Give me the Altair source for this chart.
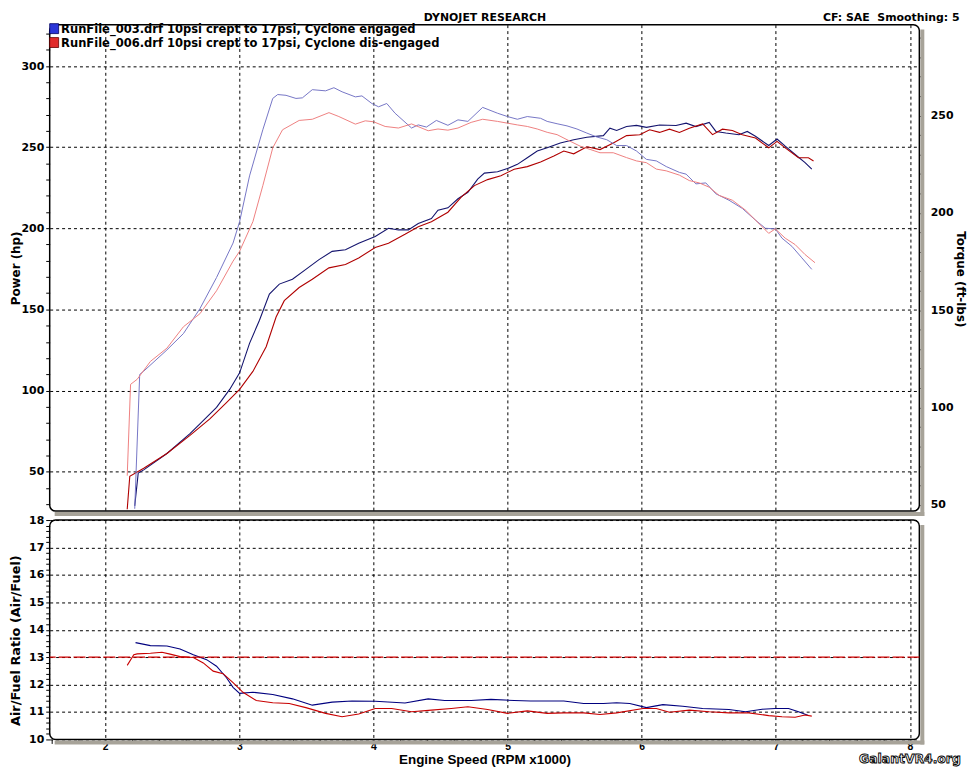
import altair as alt
import pandas as pd

# ---------------- data ----------------
# Run 003 (Cyclone engaged) - power (hp)
rpm_003_hp = [2.22, 2.246, 2.287, 2.46, 2.632, 2.706, 2.83, 2.928, 3.002, 3.076,
              3.15, 3.224, 3.298, 3.396, 3.496, 3.594, 3.692, 3.791, 3.89, 4.013,
              4.112, 4.186, 4.26, 4.334, 4.432, 4.481, 4.555, 4.63, 4.704, 4.777,
              4.827, 4.925, 4.999, 5.073, 5.147, 5.221, 5.295, 5.393, 5.493, 5.591,
              5.714, 5.763, 5.813, 5.887, 5.961, 6.035, 6.133, 6.256, 6.331, 6.404,
              6.503, 6.553, 6.627, 6.725, 6.787, 6.848, 6.947, 7.009, 7.07, 7.144,
              7.218, 7.268]
hp_003 = [28.9, 49.1, 51.1, 61.2, 73.4, 79.5, 89.6, 100.7, 110.9, 129.1,
          143.3, 159.5, 165.6, 168.6, 174.7, 180.7, 185.8, 186.8, 190.8, 194.9,
          200, 199, 199, 203, 206, 211.1, 212.6, 218.2, 222.2, 230.3,
          234, 234.8, 236.8, 239.4, 243.5, 247.6, 249.6, 252.6, 254.6, 256.1,
          257.1, 261.7, 260.3, 262.7, 263.4, 262.2, 263.7, 263.4, 264.8, 262.7,
          265.2, 259.7, 258.7, 257.7, 259.7, 256.7, 251, 255, 250.6, 245.5,
          240.5, 236.4]

# Run 003 - torque (ft-lbs)
rpm_003_tq = [2.22, 2.257, 2.287, 2.46, 2.583, 2.706, 2.83, 2.953, 3.002, 3.076,
              3.175, 3.249, 3.286, 3.348, 3.422, 3.47, 3.544, 3.643, 3.705, 3.766,
              3.865, 3.914, 3.988, 4.038, 4.099, 4.161, 4.284, 4.334, 4.395, 4.469,
              4.555, 4.63, 4.704, 4.814, 4.925, 4.999, 5.073, 5.147, 5.246, 5.295,
              5.369, 5.443, 5.517, 5.591, 5.665, 5.739, 5.813, 5.887, 5.961, 6.035,
              6.109, 6.183, 6.281, 6.331, 6.404, 6.478, 6.553, 6.651, 6.75, 6.848,
              6.922, 6.996, 7.046, 7.12, 7.194, 7.268]
tq_003 = [48, 117, 118.7, 129.6, 138, 150.8, 166.8, 184.5, 195.5, 219,
          242.7, 258.8, 260.8, 260.4, 258.8, 259.1, 263.3, 262.7, 264.3, 262.2,
          259.6, 260.1, 256.2, 254.5, 256.2, 251.2, 243.6, 245.2, 244.1, 247.5,
          245, 247.8, 247, 254.2, 251.2, 249.5, 248.1, 249.5, 248.6, 247,
          245.8, 244.7, 243.1, 241, 239, 237.6, 234.6, 234.6, 231.8, 227.5,
          226.7, 223.8, 220.8, 219.9, 214.9, 215.4, 209.8, 206.5, 202.3, 196.3,
          192.1, 191.8, 187, 182.8, 176.9, 171]

# Run 006 (Cyclone dis-engaged) - power (hp)
rpm_006_hp = [2.164, 2.183, 2.287, 2.46, 2.632, 2.78, 2.904, 3.002, 3.101, 3.2,
              3.274, 3.335, 3.446, 3.544, 3.668, 3.791, 3.89, 4.013, 4.112, 4.235,
              4.334, 4.432, 4.555, 4.654, 4.753, 4.851, 4.95, 5.049, 5.147, 5.246,
              5.345, 5.419, 5.493, 5.591, 5.689, 5.788, 5.887, 5.985, 6.059, 6.133,
              6.207, 6.281, 6.355, 6.454, 6.528, 6.602, 6.676, 6.75, 6.848, 6.947,
              7.009, 7.07, 7.169, 7.243, 7.281]
hp_006 = [26.8, 47.1, 52.1, 61.2, 72.4, 82.5, 92.6, 100.7, 111.8, 127,
          145.3, 155.4, 163.5, 168.6, 175.6, 177.7, 181.7, 188.2, 190.8, 196.3,
          201, 204, 209.9, 219.2, 226.3, 230, 232.4, 236.4, 238, 240.9,
          244.5, 247.6, 245.9, 250.2, 248.5, 252.6, 257.1, 257.7, 260.7, 259.1,
          261.1, 259.1, 261.7, 264.3, 257.7, 261.1, 260.3, 257.7, 255.6, 249.6,
          253.6, 249.6, 243.5, 243.5, 241.5]

# Run 006 - torque (ft-lbs)
rpm_006_tq = [2.164, 2.189, 2.238, 2.337, 2.46, 2.583, 2.706, 2.83, 2.953, 3.002,
              3.101, 3.175, 3.249, 3.322, 3.446, 3.544, 3.668, 3.742, 3.865, 3.939,
              4.001, 4.087, 4.186, 4.284, 4.408, 4.481, 4.555, 4.63, 4.728, 4.814,
              4.925, 4.999, 5.073, 5.147, 5.221, 5.295, 5.369, 5.443, 5.541, 5.615,
              5.689, 5.788, 5.887, 5.961, 6.035, 6.109, 6.183, 6.281, 6.355, 6.429,
              6.503, 6.577, 6.676, 6.774, 6.873, 6.947, 6.996, 7.07, 7.144, 7.218,
              7.292]
tq_006 = [65, 111.9, 114.5, 123.7, 130.5, 141.5, 148.2, 160, 175.2, 180.3,
          195.5, 214, 233.4, 242.7, 247.5, 248.1, 251.5, 249.5, 245.6, 247.3,
          246.8, 244.4, 243.6, 245.7, 242.2, 243.1, 242.5, 243.6, 246.5, 248.1,
          247, 246.1, 245.2, 244.4, 243.1, 241.4, 240.2, 237.6, 234.3, 232.6,
          230.9, 230.9, 228.4, 226.7, 225.8, 222.5, 221.6, 219.4, 216.6, 215.4,
          213.2, 209, 206.5, 201.4, 194.6, 189.5, 191.8, 187, 183.7, 178.6,
          174.4]

# Air/Fuel ratio
rpm_003_afr = [2.226, 2.337, 2.46, 2.558, 2.657, 2.756, 2.83, 2.904, 2.953, 3.002,
               3.101, 3.249, 3.396, 3.544, 3.692, 3.84, 4.013, 4.235, 4.408, 4.531,
               4.728, 4.876, 5.049, 5.172, 5.419, 5.567, 5.714, 5.813, 5.911, 6.035,
               6.158, 6.306, 6.454, 6.651, 6.774, 6.898, 6.996, 7.095, 7.169, 7.243]
afr_003 = [13.53, 13.42, 13.41, 13.30, 13.09, 12.91, 12.67, 12.25, 11.90, 11.68,
           11.72, 11.64, 11.48, 11.25, 11.36, 11.40, 11.39, 11.33, 11.48, 11.42,
           11.42, 11.46, 11.42, 11.40, 11.40, 11.31, 11.31, 11.34, 11.31, 11.16,
           11.27, 11.21, 11.13, 11.09, 11.01, 11.10, 11.13, 11.13, 11.01, 10.87]
rpm_006_afr = [2.164, 2.213, 2.238, 2.337, 2.423, 2.484, 2.558, 2.657, 2.731, 2.805,
               2.879, 2.953, 3.027, 3.126, 3.249, 3.372, 3.496, 3.643, 3.766, 3.89,
               4.013, 4.136, 4.284, 4.432, 4.58, 4.704, 4.851, 4.999, 5.147, 5.295,
               5.419, 5.567, 5.689, 5.813, 6.01, 6.109, 6.207, 6.355, 6.503, 6.651,
               6.799, 6.947, 7.046, 7.144, 7.218, 7.268]
afr_006 = [12.70, 13.09, 13.12, 13.14, 13.18, 13.11, 13.02, 12.99, 12.79, 12.49,
           12.40, 12.07, 11.72, 11.42, 11.34, 11.31, 11.16, 10.95, 10.83, 10.93,
           11.13, 11.13, 11.01, 11.07, 11.13, 11.19, 11.09, 10.95, 11.04, 10.95,
           10.97, 10.97, 10.91, 10.97, 11.13, 11.13, 10.99, 11.07, 11.01, 10.97,
           10.97, 10.87, 10.83, 10.81, 10.89, 10.85]
afr_target = [13]

# ticks / labels
x_ticks = [1.6, 1.8, 2.0, 2.2, 2.4, 2.6, 2.8, 3.0, 3.2, 3.4, 3.6, 3.8, 4.0, 4.2, 4.4,
           4.6, 4.8, 5.0, 5.2, 5.4, 5.6, 5.8, 6.0, 6.2, 6.4, 6.6, 6.8, 7.0, 7.2, 7.4,
           7.6, 7.8, 8.0]
x_major = [2, 3, 4, 5, 6, 7, 8]
power_ticks = [30, 40, 50, 60, 70, 80, 90, 100, 110, 120, 130, 140, 150, 160, 170,
               180, 190, 200, 210, 220, 230, 240, 250, 260, 270, 280, 290, 300, 310, 320]
torque_ticks = [50, 60, 70, 80, 90, 100, 110, 120, 130, 140, 150, 160, 170, 180, 190,
                200, 210, 220, 230, 240, 250, 260, 270, 280, 290]
afr_ticks = [10.0, 10.2, 10.4, 10.6, 10.8, 11.0, 11.2, 11.4, 11.6, 11.8, 12.0, 12.2,
             12.4, 12.6, 12.8, 13.0, 13.2, 13.4, 13.6, 13.8, 14.0, 14.2, 14.4, 14.6,
             14.8, 15.0, 15.2, 15.4, 15.6, 15.8, 16.0, 16.2, 16.4, 16.6, 16.8, 17.0,
             17.2, 17.4, 17.6, 17.8, 18.0]
legend_labels = ["RunFile_003.drf 10psi crept to 17psi, Cyclone engaged",
                 "RunFile_006.drf 10psi crept to 17psi, Cyclone dis-engaged"]
header_title = "DYNOJET RESEARCH"
header_right = "CF: SAE\u00a0\u00a0Smoothing: 5"
watermark = "GalantVR4.org"

# ---------------- styling ----------------
W, H_TOP, H_BOT = 876, 490, 221
X_DOMAIN = [1.586, 8.07]
HP_DOMAIN = [25.7, 325.5]
TQ_DOMAIN = [46.8, 296.7]
AFR_DOMAIN = [10, 18]

C_BLUE_HP = "#14146e"
C_BLUE_TQ = "#7676c6"
C_RED_HP = "#b00000"
C_RED_TQ = "#ee8080"
C_BLUE_AFR = "#00007f"
C_RED_AFR = "#c80000"
SHADOW = "#a7a399"
FONT = "DejaVu Sans"
NARROW = "Liberation Sans Narrow, Liberation Sans"

INT_TEST = "abs(datum.value - round(datum.value)) < 0.001"
M50_TEST = "datum.value % 50 == 0"

x_scale = alt.Scale(domain=X_DOMAIN, nice=False, zero=False)
hp_scale = alt.Scale(domain=HP_DOMAIN, nice=False, zero=False)
tq_scale = alt.Scale(domain=TQ_DOMAIN, nice=False, zero=False)
afr_scale = alt.Scale(domain=AFR_DOMAIN, nice=False, zero=False)

x_axis_top = alt.Axis(values=x_major, labels=False, ticks=False, domain=False,
                      grid=True, title=None)
x_axis_bot = alt.Axis(values=x_ticks, domain=False, tickSize=4, labelPadding=-2,
                      labelExpr=f"{INT_TEST} ? format(round(datum.value), 'd') : ''",
                      gridOpacity={"condition": {"test": INT_TEST, "value": 1}, "value": 0},
                      labelFont=NARROW, labelFontSize=10.5, labelFontWeight="bold",
                      title="Engine Speed (RPM x1000)", titleFont=NARROW,
                      titleFontSize=13.5, titleFontWeight="bold",
                      titleY=20, titleBaseline="middle")
hp_axis = alt.Axis(orient="left", values=power_ticks, domain=False, tickSize=4,
                   labelPadding=2,
                   labelExpr=f"{M50_TEST} ? datum.label : ''",
                   gridOpacity={"condition": {"test": M50_TEST, "value": 1}, "value": 0},
                   title="Power (hp)", titleX=-34.5, titleY=H_TOP / 2,
                   titleAngle=-90, titleBaseline="middle", titleFontSize=12)
tq_axis = alt.Axis(orient="right", values=torque_ticks, domain=False, tickSize=4,
                   labelPadding=7, grid=False,
                   labelExpr=f"{M50_TEST} ? datum.label : ''",
                   title="Torque (ft-lbs)", titleX=41, titleY=256,
                   titleAngle=90, titleBaseline="middle", titleFontSize=12)
afr_axis = alt.Axis(orient="left", values=afr_ticks, domain=False, tickSize=4,
                    labelPadding=2,
                    labelExpr=f"{INT_TEST} ? format(round(datum.value), 'd') : ''",
                    gridOpacity={"condition": {"test": INT_TEST, "value": 1}, "value": 0},
                    title="Air/Fuel Ratio (Air/Fuel)", titleX=-34.5, titleY=121,
                    titleAngle=-90, titleBaseline="middle", titleFontSize=13)


def curve(rpm, vals, field, color, scale, axis, xaxis, width=1.1):
    df = pd.DataFrame({"rpm": rpm, field: vals})
    return alt.Chart(df).mark_line(color=color, strokeWidth=width, clip=True).encode(
        x=alt.X("rpm:Q", scale=x_scale, axis=xaxis),
        y=alt.Y(f"{field}:Q", scale=scale, axis=axis),
        order="rpm:Q",
    )


def box(x, x2, y, y2, color, stroke=None):
    kw = {"color": color}
    if stroke:
        kw["stroke"] = stroke
        kw["strokeWidth"] = 0.8
    return alt.Chart(pd.DataFrame({"k": [0]})).mark_rect(**kw).encode(
        x=alt.value(x), x2=alt.value(x2), y=alt.value(y), y2=alt.value(y2))


def label(txt, x, y, align="left", size=11, font=FONT, fill="black", stroke=None,
          baseline="middle"):
    kw = dict(align=align, baseline=baseline, font=font, fontWeight="bold",
              fontSize=size, color=fill)
    if stroke:
        kw["stroke"] = stroke
        kw["strokeWidth"] = 0.9
    return alt.Chart(pd.DataFrame({"t": [txt]})).mark_text(**kw).encode(
        text="t:N", x=alt.value(x), y=alt.value(y))


# ---------------- top panel ----------------
power = alt.layer(
    curve(rpm_003_hp, hp_003, "hp", C_BLUE_HP, hp_scale, hp_axis, x_axis_top),
    curve(rpm_006_hp, hp_006, "hp", C_RED_HP, hp_scale, hp_axis, x_axis_top),
)
torque = alt.layer(
    curve(rpm_003_tq, tq_003, "tq", C_BLUE_TQ, tq_scale, tq_axis, x_axis_top, 1.0),
    curve(rpm_006_tq, tq_006, "tq", C_RED_TQ, tq_scale, tq_axis, x_axis_top, 1.0),
)
top = alt.layer(
    box(W + 1, W + 5, 5, H_TOP + 5, SHADOW),
    box(5, W + 5, H_TOP + 1, H_TOP + 5, SHADOW),
    power,
    torque,
    box(0, 9, -1, 9, "#2a35d8", "#000060"),
    box(0, 9, 13, 23, "#e02a2a", "#600000"),
    label(legend_labels[0], 11.5, 5, size=11.6),
    label(legend_labels[1], 11.5, 19, size=11.6),
    label(header_title, 438.5, -13, align="center", baseline="top"),
    label(header_right, 916.5, -13, align="right", baseline="top"),
).resolve_scale(y="independent").properties(width=W, height=H_TOP)

# ---------------- bottom panel ----------------
bottom = alt.layer(
    box(W + 1, W + 5, 5, H_BOT + 5, SHADOW),
    box(5, W + 5, H_BOT + 1, H_BOT + 5, SHADOW),
    curve(rpm_003_afr, afr_003, "afr", C_BLUE_AFR, afr_scale, afr_axis, x_axis_bot),
    curve(rpm_006_afr, afr_006, "afr", C_RED_AFR, afr_scale, afr_axis, x_axis_bot),
    alt.Chart(pd.DataFrame({"afr": afr_target})).mark_rule(
        color="#d00000", strokeDash=[12, 3], strokeWidth=1.3).encode(
        y=alt.Y("afr:Q", scale=afr_scale, axis=afr_axis)),
    label(watermark, 866.5, H_BOT + 20, align="center", size=12.5,
          fill="white", stroke="black"),
).properties(width=W, height=H_BOT)

chart = alt.vconcat(top, bottom, spacing=9, bounds="flush").properties(
    padding={"left": 0, "top": 0, "right": 0, "bottom": 0},
    background="white",
).configure_view(
    stroke="black", strokeWidth=1.5, cornerRadius=6, fill="white"
).configure_axis(
    labelFont=FONT, labelFontWeight="bold", labelFontSize=11, labelColor="black",
    titleFont=FONT, titleFontWeight="bold", titleColor="black",
    tickColor="black", gridColor="black", gridDash=[3, 3], gridWidth=1,
    gridOpacity=1,
)

chart.save("out.html", embed_options={"renderer": "svg", "actions": False})
